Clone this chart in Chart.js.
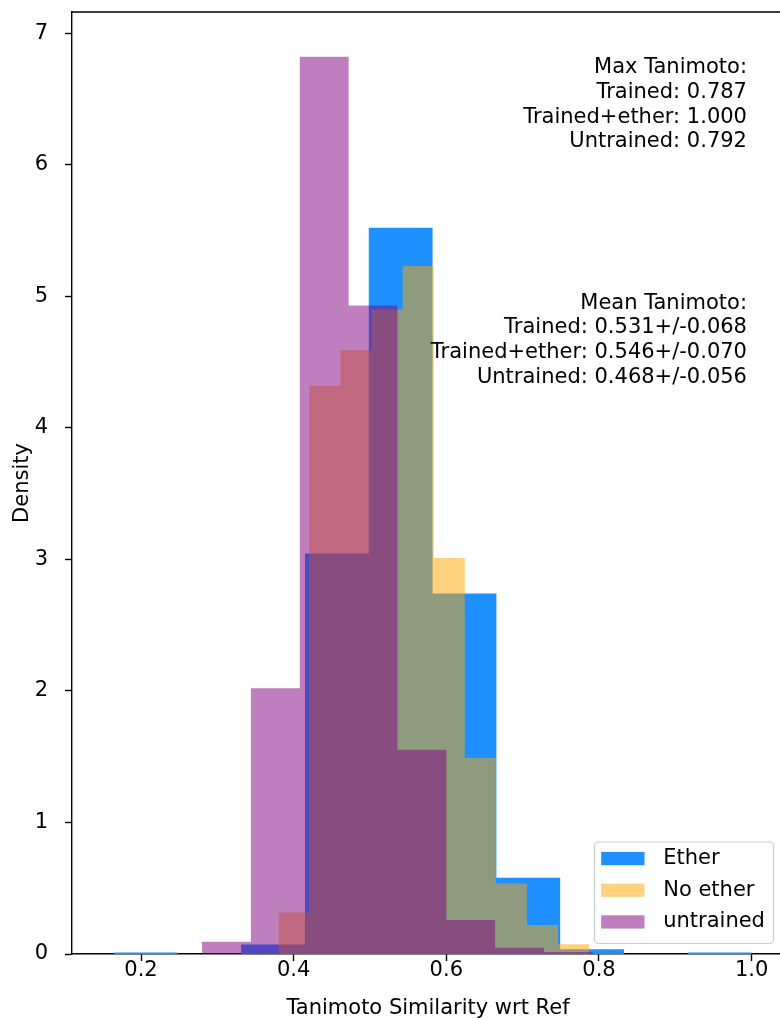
<!DOCTYPE html>
<html>
<head>
<meta charset="utf-8">
<title>Tanimoto similarity histogram</title>
<script src="https://cdn.jsdelivr.net/npm/chart.js@4.4.1/dist/chart.umd.min.js"></script>
<style>
  html, body { margin: 0; padding: 0; background: #fff; overflow: hidden; }
  #wrap { width: 800px; height: 1019px; }
</style>
</head>
<body>
<div id="wrap"><canvas id="myChart" width="800" height="1019"></canvas></div>
<script>
// names + histogram bins (density)
const seriesNames = ['Ether', 'No ether', 'untrained'];

const etherEdges = [0.164, 0.2476, 0.3312, 0.4148, 0.4984, 0.582, 0.6656, 0.7492, 0.8328, 0.9164, 1.0];
const etherDensity = [0.012, 0, 0.072, 3.045, 5.52, 2.74, 0.579, 0.036, 0, 0.012];

const noEtherEdges = [0.380, 0.4207, 0.4614, 0.5021, 0.5428, 0.5835, 0.6242, 0.6649, 0.7056, 0.7463, 0.787];
const noEtherDensity = [0.316, 4.32, 4.59, 4.9, 5.23, 3.01, 1.49, 0.536, 0.22, 0.074];

const untrainedEdges = [0.152, 0.216, 0.280, 0.344, 0.408, 0.472, 0.536, 0.600, 0.664, 0.728, 0.792];
const untrainedDensity = [0, 0, 0.094, 2.02, 6.82, 4.93, 1.553, 0.258, 0.047, 0.016];

const xTicks = [0.2, 0.4, 0.6, 0.8, 1.0];
const yTicks = [0, 1, 2, 3, 4, 5, 6, 7];

const maxLines = ['Max Tanimoto:', 'Trained: 0.787', 'Trained+ether: 1.000', 'Untrained: 0.792'];
const meanLines = ['Mean Tanimoto:', 'Trained: 0.531+/-0.068', 'Trained+ether: 0.546+/-0.070', 'Untrained: 0.468+/-0.056'];

const colors = ['#1E90FF', 'rgba(255,165,0,0.5)', 'rgba(128,0,128,0.5)'];

const FONT = 'DejaVu Sans';
const FSIZE = 21;

// stepped outline of a histogram, from edges and heights
function histPoints(edges, dens) {
  const pts = [{x: edges[0], y: 0}];
  for (let i = 0; i < dens.length; i++) {
    pts.push({x: edges[i], y: dens[i]});
  }
  pts.push({x: edges[edges.length - 1], y: dens[dens.length - 1]});
  pts.push({x: edges[edges.length - 1], y: 0});
  return pts;
}

// matplotlib style 5% margins
const allEdges = etherEdges.concat(noEtherEdges, untrainedEdges);
const xLo = Math.min(...allEdges), xHi = Math.max(...allEdges);
const xMin = xLo - 0.05 * (xHi - xLo);
const xMax = xHi + 0.05 * (xHi - xLo);
const yMax = 1.05 * Math.max(...etherDensity, ...noEtherDensity, ...untrainedDensity);

function ds(label, pts, color) {
  return {
    label: label,
    data: pts,
    stepped: true,
    fill: 'origin',
    backgroundColor: color,
    borderColor: 'transparent',
    borderWidth: 0,
    pointRadius: 0,
    pointHoverRadius: 0,
    tension: 0
  };
}

//frame, text boxes and legend inside the axes
const extras = {
  id: 'extras',
  afterDraw(chart) {
    const ctx = chart.ctx;
    const a = chart.chartArea;
    const w = a.right - a.left, h = a.bottom - a.top;
    ctx.save();

    ctx.strokeStyle = '#000';
    ctx.lineWidth = 1.4;
    ctx.beginPath();
    ctx.moveTo(a.left, a.top);
    ctx.lineTo(a.right, a.top);
    ctx.lineTo(a.right, a.bottom);
    ctx.stroke();

    ctx.font = FSIZE + 'px "' + FONT + '"';
    ctx.fillStyle = '#000';
    ctx.textAlign = 'right';
    ctx.textBaseline = 'middle';
    const tx = a.left + 0.948 * w;
    const lh = 24.8;
    let top1 = a.top + 0.05 * h + 8.5;
    maxLines.forEach((s, i) => ctx.fillText(s, tx, top1 + i * lh));
    let top2 = a.top + 0.30 * h + 8.5;
    meanLines.forEach((s, i) => ctx.fillText(s, tx, top2 + i * lh));

    // legend, lower right
    const bw = 179, bh = 101.5;
    const bx = a.right - 10.5 - bw;
    const by = a.bottom - 10.5 - bh;
    ctx.beginPath();
    if (ctx.roundRect) ctx.roundRect(bx, by, bw, bh, 4); else ctx.rect(bx, by, bw, bh);
    ctx.fillStyle = 'rgba(255,255,255,0.8)';
    ctx.fill();
    ctx.strokeStyle = '#cccccc';
    ctx.lineWidth = 1.2;
    ctx.stroke();

    ctx.textAlign = 'left';
    seriesNames.forEach((name, i) => {
      const cy = by + 16.6 + i * 31.7;
      ctx.fillStyle = colors[i];
      ctx.fillRect(bx + 6.7, cy - 6.7, 43.3, 13.3);
      ctx.fillStyle = '#000';
      ctx.fillText(name, bx + 68.7, cy);
    });

    ctx.restore();
  }
};

const data = {
  datasets: [
    ds(seriesNames[2], histPoints(untrainedEdges, untrainedDensity), colors[2]),
    ds(seriesNames[1], histPoints(noEtherEdges, noEtherDensity), colors[1]),
    ds(seriesNames[0], histPoints(etherEdges, etherDensity), colors[0])
  ]
};

const config = {
  type: 'line',
  data: data,
  options: {
    responsive: false,
    animation: false,
    devicePixelRatio: 1,
    layout: { padding: { left: 0, right: 16, top: 12, bottom: 0 } },
    plugins: {
      legend: { display: false },
      tooltip: { enabled: false }
    },
    scales: {
      x: {
        type: 'linear',
        min: xMin,
        max: xMax,
        afterBuildTicks: (axis) => { axis.ticks = xTicks.map(v => ({value: v})); },
        afterFit: (axis) => { axis.height = 65; axis.paddingLeft = 0; axis.paddingRight = 0; },
        grid: { display: true, drawOnChartArea: false, drawTicks: true, tickLength: 7, tickColor: '#000', tickWidth: 1.4 },
        border: { display: true, color: '#000', width: 1.4 },
        ticks: {
          color: '#000',
          padding: -3.5,
          maxRotation: 0,
          font: { family: FONT, size: FSIZE },
          callback: (v) => Number(v).toFixed(1)
        },
        title: {
          display: true,
          text: 'Tanimoto Similarity wrt Ref',
          color: '#000',
          font: { family: FONT, size: FSIZE },
          padding: { top: 0, bottom: -2.5 }
        }
      },
      y: {
        type: 'linear',
        min: 0,
        max: yMax,
        afterBuildTicks: (axis) => { axis.ticks = yTicks.map(v => ({value: v})); },
        afterFit: (axis) => { axis.width = 72; axis.paddingTop = 0; axis.paddingBottom = 0; },
        grid: { display: true, drawOnChartArea: false, drawTicks: true, tickLength: 7, tickColor: '#000', tickWidth: 1.4 },
        border: { display: true, color: '#000', width: 1.4 },
        ticks: {
          color: '#000',
          padding: 17,
          font: { family: FONT, size: FSIZE },
          callback: (v) => String(v)
        },
        title: {
          display: true,
          text: 'Density',
          color: '#000',
          font: { family: FONT, size: FSIZE },
          padding: { top: 10, bottom: 0 }
        }
      }
    }
  },
  plugins: [extras]
};

const myChart = new Chart(document.getElementById('myChart'), config);
</script>
</body>
</html>
